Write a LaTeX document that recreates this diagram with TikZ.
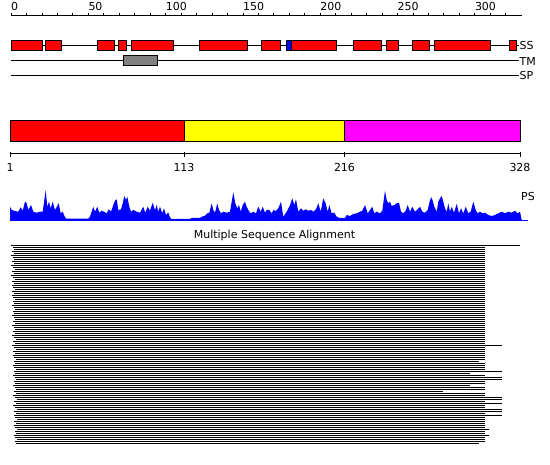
\documentclass[tikz,border=0pt]{standalone}
\usepackage{fontspec}
\setmainfont{DejaVu Sans}
\usepackage{tikz}
\usetikzlibrary{positioning}
\definecolor{psblue}{RGB}{0, 0, 255}
\definecolor{tmgray}{RGB}{128, 128, 128}
\definecolor{ssred}{RGB}{255, 0, 0}
\definecolor{domred}{RGB}{255, 0, 0}
\definecolor{domyellow}{RGB}{255, 255, 0}
\definecolor{dommagenta}{RGB}{255, 0, 255}

\begin{document}
\begin{tikzpicture}[x=1pt, y=-1pt,
  lbl/.style={font=\fontsize{11}{13}\selectfont, inner sep=0pt},
  trk/.style={line width=0.9pt},
  helix/.style={draw=black, fill=ssred, line width=0.9pt},
  strand/.style={draw=black, fill=psblue, line width=0.9pt},
  tmseg/.style={draw=black, fill=tmgray, line width=0.9pt},
  dom/.style={draw=black, line width=0.8pt},
  aln/.style={line width=1pt}
]
\useasboundingbox (0,0) rectangle (550,465);

% top ruler
\draw[trk] (11,15) -- (521.5,15);
\foreach \t in {0,...,32}
  \draw[line width=0.8pt] ({11+15.46*\t},12.6) -- ++(0,2.4);
\foreach \v in {0,50,...,300}
  \node[lbl, anchor=base west] (num\v) at ({11+1.546*\v},11) {\v};

% SS track
\draw[trk] (11,45) -- (519,45);
\foreach \a/\b in {11/42.7, 45.3/61.7, 97.3/114.7, 118.3/126.7, 131.3/173.7,
    199.3/247.7, 261.3/280.7, 291.3/336.7, 353.3/381.7, 386.3/398.7,
    412.3/429.7, 434/490.7, 509/516.7}
  \draw[helix] (\a,40) rectangle (\b,50.5);
\draw[strand] (286,40) rectangle (291.3,50.5);
\node[lbl, anchor=west] (ss) at (519.5,45.5) {SS};

% TM track
\draw[trk] (11,60.5) -- (519,60.5);
\draw[tmseg] (123.3,55.3) rectangle (157.3,65.5);
\node[lbl, anchor=west] (tm) at (519.5,61) {TM};

% SP track
\draw[trk] (11,75.3) -- (519,75.3);
\node[lbl, anchor=west] (sp) at (519.5,75.8) {SP};

% domains
\draw[dom, fill=domred] (10,120.5) rectangle (184,141);
\draw[dom, fill=domyellow] (184,120.5) rectangle (344.5,141);
\draw[dom, fill=dommagenta] (344.5,120.5) rectangle (520,141);
\draw[trk] (10,153) -- (520,153);
\foreach \x/\v in {10/1, 184/113, 344.5/216, 520/328} {
  \draw[trk] (\x,152) -- (\x,157.5);
  \node[lbl, anchor=base] (dlab\v) at (\x,171.5) {\v};
}

% PS profile
\fill[psblue] (10,220) -- plot coordinates {
  (10,206.7) (11.7,210) (15,211) (18.3,211.7) (20.7,207.3) (22.7,210.7)
  (25,201.7) (26.7,203.3) (28.3,210) (31,205) (33.3,211.7) (36.7,212.7)
  (40,211.7) (42.7,211.7) (45.7,190) (47.3,206.7) (49,201.7) (50.7,208.3)
  (52.7,201.7) (55,210) (58.7,203.3) (60.7,213.3) (62.7,211.7) (65,217.3)
  (66.7,218.7) (88.3,218.7) (90,216.7) (93.3,206.7) (95,211.7) (97.3,206.7)
  (99.3,212.7) (101.7,210.7) (104,211.7) (106.7,213.3) (108.7,209.3)
  (111,211.7) (113.3,205) (115,200.7) (116.7,199.3) (118.3,210) (121,209.3)
  (122.7,203.3) (124.3,196) (126,200) (127.3,196.7) (129.3,206.7)
  (131,211.7) (133.3,210) (136.7,211.7) (140,212.7) (143.3,206.7)
  (145.3,212.7) (147.7,206.7) (150,210.7) (152.7,202.7) (155,210)
  (156.7,205) (158.3,211.7) (160,206.7) (162.3,213.3) (164,208.3)
  (166,215) (168.3,212.7) (170,217.3) (171.7,219) (190,219) (191.7,218)
  (200,218) (201.7,216.7) (205,215.7) (207.3,213.3) (209.3,212.7)
  (211.7,203.3) (213.3,210) (215,212.7) (217.3,203.3) (219,210) (221,213.3)
  (223.3,211.7) (226.7,212.7) (230,211.7) (233.3,192.3) (235.3,203.3)
  (237.3,208.3) (239,205) (240.7,211.7) (242.7,205) (245,201.7)
  (246.7,206.7) (248.3,210) (250.7,213.3) (253.3,211.7) (256,213.3)
  (258.3,206.7) (260.7,211.7) (262.7,206.7) (265,212.7) (266.7,210)
  (269.3,210) (271.7,213.3) (274,209.3) (275,211.7) (278.3,208.3)
  (281,201.7) (283.3,216.7) (286.7,211.7) (290,205) (292.3,198.3)
  (294.3,205) (296,199.3) (298.3,211.7) (301,208.3) (303.3,210.7)
  (305.7,209.3) (308.3,210.7) (311,210) (313.3,211.7) (316,209.3)
  (318.3,203.3) (320.7,211.7) (323.3,198.3) (325.7,203.3) (327.7,211.7)
  (329.3,205) (331.7,213.3) (334.3,212.7) (336.7,216.7) (340,218)
  (345,218) (346.7,215) (350,216) (353.3,214) (356.7,213.3) (360,211.7)
  (362.3,210.7) (365,205) (367.7,213.3) (370,210) (372.3,206.7)
  (374.3,213.3) (376.7,211.7) (380,213.3) (382.3,210.7) (385,190.7)
  (386.7,200) (388.3,203.3) (390,201.7) (391.7,206) (394.3,205)
  (396.7,203.3) (399,202.7) (401,211.7) (403.3,213.3) (405.7,210.7)
  (407.7,205) (410,211.7) (412.3,206.7) (415,211.7) (417.7,209.3)
  (420,206.7) (422.3,211.7) (425,212.7) (427.7,210) (430,200) (431.7,197.3)
  (434.3,206.7) (436.7,211.7) (438.3,201.7) (440,198.3) (441.7,196)
  (443.3,201.7) (445,208.3) (446.7,211.7) (448.3,203.3) (450,211.7)
  (451.7,206.7) (454,212.7) (456.7,204) (459,213.3) (461,208.3)
  (463.3,213.3) (465.7,206.7) (468.3,213.3) (470.7,211.7) (473.3,201.7)
  (475.7,210) (477.7,213.3) (480,211.7) (482.3,213.3) (485,212.7)
  (488.3,215) (491.7,216) (495,215) (498.3,213.3) (501.7,211.7)
  (505,213.3) (508.3,211.7) (511.7,212.7) (515,210.7) (517.7,213.3)
  (520,211.7) (521.7,220)
} -- cycle;
\draw[psblue, line width=1pt] (10,220.5) -- (527.5,220.5);
\node[lbl, anchor=west] (ps) at (521,196) {PS};

% alignment
\node[lbl, anchor=base] (msa) at (274.5,238.3) {Multiple Sequence Alignment};
\draw[aln] (10.5,245.5) -- (520,245.5);
\foreach \k in {1,...,49,51,52,53,54,55,56,57,59,60,61,62,65,68,69,71,72,74,75,
    78,80,81,84,86,87,88,89,90,91,93,94,96,97,98}
  \draw[aln] ({11+mod(\k*7,5)*0.8+\k*0.03},245.5+2*\k) -- (485,245.5+2*\k);
\foreach \k/\r in {50/502, 58/479, 63/502, 64/470, 66/502, 67/502, 70/470,
    73/443, 76/502, 77/502, 79/502, 82/502, 83/502, 85/502, 92/489, 95/489,
    99/479}
  \draw[aln] ({11+mod(\k*7,5)*0.8+\k*0.03},245.5+2*\k) -- (\r,245.5+2*\k);

\end{tikzpicture}
\end{document}
